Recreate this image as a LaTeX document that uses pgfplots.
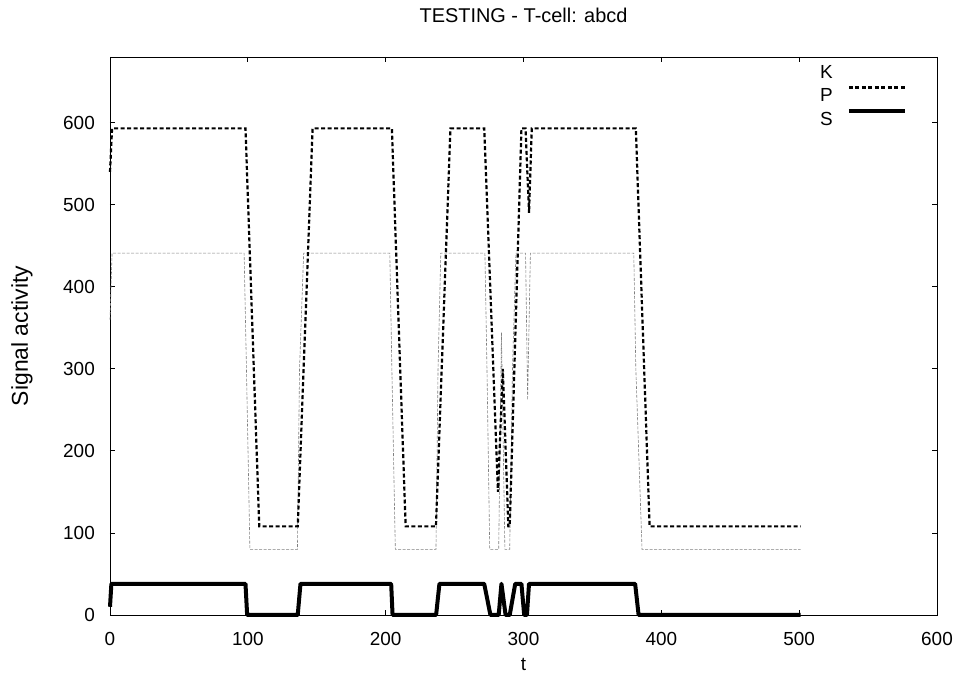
\documentclass[border=0pt]{standalone}
\usepackage{fontspec}
\setmainfont{Liberation Sans}
\usepackage{pgfplots}
\pgfplotsset{compat=1.18}
\pgfplotstableread{
t v
0 360
1.5 441
97.3 441
99 300
101.5 80
136 80
137.5 300
140.5 441
203 441
204.5 300
207 80
236.5 80
238 300
240 441
272 441
273.5 300
275.5 80
282 80
284 344
286.5 80
290 80
292 300
294.5 441
301.5 441
303 262
305 441
380 441
381.5 300
386 80
501 80
}\Kdata
\pgfplotstableread{
t v
0 540
1.5 593
98.3 593
108.3 108
136.2 108
147 593
204.5 593
214.5 108
236.5 108
247 593
271.5 593
281.5 150
285 300
289 108
290 108
298.5 593
301.5 593
304 490
306 593
381.5 593
391.5 108
501 108
}\Pdata
\pgfplotstableread{
t v
0 10
1 38
98.3 38
99.5 0
136.2 0
138.2 38
204 38
205 0
236.6 0
239 38
271.5 38
276 0
282 0
284 38
287 0
290 0
294 38
298.5 38
300.5 0
302.5 0
304 38
381 38
383.5 0
501 0
}\Sdata
\begin{document}
\begin{tikzpicture}
\begin{axis}[
  name=ax,
  scale only axis,
  width=827bp, height=558bp,
  xmin=0, xmax=600, ymin=0, ymax=680,
  xtick={0,100,...,600}, ytick={0,100,...,600},
  tick align=inside, major tick length=5bp,
  axis line style={line width=0.8bp},
  tick style={black, line width=0.8bp},
  /pgf/number format/assume math mode=true,
  ticklabel style={font=\fontsize{19}{21}\selectfont},
  xticklabel style={inner sep=0pt, yshift=-17bp},
  yticklabel style={inner sep=0pt, xshift=-15bp},
  title={TESTING - T-cell: abcd},
  title style={font=\fontsize{20}{22}\selectfont, at={(axis description cs:0.5,1.05)}, anchor=south, inner sep=0pt},
  xlabel={t},
  xlabel style={font=\fontsize{19}{21}\selectfont, at={(axis description cs:0.5,-0.077)}, anchor=north, inner sep=0pt},
  ylabel={Signal activity},
  ylabel style={font=\fontsize{23}{25}\selectfont, at={(axis description cs:-0.1064,0.5)}, anchor=center, inner sep=0pt},
  clip=false,
  legend plot pos=right,
  legend cell align=right,
  legend image code/.code={\draw[#1] (0bp,7bp) -- (56bp,7bp);},
  legend style={at={(axis description cs:1,1)}, anchor=north east, xshift=-30bp, yshift=-7bp,
    draw=none, fill=none, inner sep=0pt, font=\fontsize{19}{21}\selectfont,
    nodes={inner sep=0pt, text height=14bp, text depth=0pt},
    row sep=8bp, column sep=14bp},
]
\addlegendimage{black, opacity=0}
\addlegendentry{K}
\addplot[forget plot, black!50, line width=0.6bp, dash pattern=on 3bp off 1.5bp] table[x=t,y=v]{\Kdata};
\addplot[black, line width=2.2bp, dash pattern=on 4bp off 2.5bp] table[x=t,y=v]{\Pdata};
\addlegendentry{P}
\addplot[black, line width=4bp, line join=round] table[x=t,y=v]{\Sdata};
\addlegendentry{S}
\end{axis}
\path ([xshift=-110bp,yshift=-61bp]ax.south west) rectangle ([xshift=20bp,yshift=57bp]ax.north east);
\end{tikzpicture}
\end{document}
